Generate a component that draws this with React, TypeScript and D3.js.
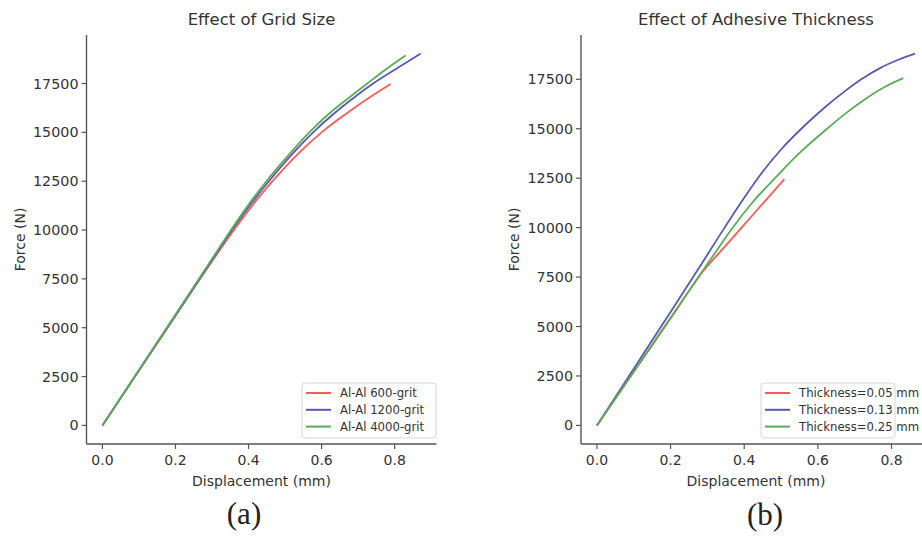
import * as d3 from "d3";

const W = 922;
const H = 537;

type Pt = [number, number];

// displacement (mm), force (N)
const grit600: Pt[] = [[0, 0], [0.1, 2800], [0.2, 5600], [0.28, 7850], [0.36, 10000], [0.41, 11250], [0.468, 12550], [0.53, 13800], [0.6, 15000], [0.65, 15720], [0.7, 16390], [0.75, 17010], [0.789, 17470]];
const grit1200: Pt[] = [[0, 0], [0.1, 2820], [0.2, 5640], [0.28, 7890], [0.355, 10000], [0.41, 11420], [0.46, 12600], [0.52, 13900], [0.574, 14950], [0.63, 15900], [0.69, 16800], [0.743, 17520], [0.81, 18320], [0.871, 19030]];
const grit4000: Pt[] = [[0, 0], [0.1, 2840], [0.2, 5680], [0.28, 7950], [0.352, 10000], [0.4, 11300], [0.451, 12550], [0.51, 13850], [0.561, 14900], [0.62, 15950], [0.68, 16850], [0.725, 17500], [0.78, 18280], [0.83, 18940]];

const thick005: Pt[] = [[0, 0], [0.1, 2700], [0.2, 5400], [0.29, 7830], [0.34, 8885], [0.4, 10150], [0.46, 11420], [0.509, 12450]];
const thick013: Pt[] = [[0, 0], [0.1, 2870], [0.2, 5740], [0.273, 7840], [0.345, 9950], [0.39, 11230], [0.437, 12500], [0.5, 13950], [0.555, 15000], [0.62, 16100], [0.67, 16850], [0.718, 17500], [0.77, 18080], [0.82, 18500], [0.864, 18800]];
const thick025: Pt[] = [[0, 0], [0.1, 2720], [0.2, 5440], [0.288, 7830], [0.33, 8970], [0.368, 9980], [0.42, 11220], [0.486, 12550], [0.546, 13700], [0.625, 15000], [0.673, 15740], [0.73, 16520], [0.78, 17100], [0.832, 17560]];

const gridLabels = ["Al-Al 600-grit", "Al-Al 1200-grit", "Al-Al 4000-grit"];
const thickLabels = ["Thickness=0.05 mm", "Thickness=0.13 mm", "Thickness=0.25 mm"];
const colors = ["#ff5a5a", "#5959b4", "#59ac59"];

const xTicks = [0, 0.2, 0.4, 0.6, 0.8];
const yTicks = [0, 2500, 5000, 7500, 10000, 12500, 15000, 17500];

const font = "DejaVu Sans, sans-serif";
const ink = "#333";
const spine = "#555";

interface PanelProps {
  left: number;
  title: string;
  series: Pt[][];
  labels: string[];
  legendX: number;
}

const Panel = ({ left, title, series, labels, legendX }: PanelProps) => {
  const top = 35;
  const bottom = 444;
  const plotW = 350;
  const all = series.flat();
  const xMax = d3.max(all, (d) => d[0]) as number;
  const yMax = d3.max(all, (d) => d[1]) as number;
  // matplotlib-style 5% margins
  const x = d3.scaleLinear().domain([-0.05 * xMax, 1.05 * xMax]).range([left, left + plotW]);
  const y = d3.scaleLinear().domain([-0.05 * yMax, 1.05 * yMax]).range([bottom, top]);
  const line = d3
    .line<Pt>()
    .x((d) => x(d[0]))
    .y((d) => y(d[1]))
    .curve(d3.curveMonotoneX);

  return (
    <g fontFamily={font} fill={ink}>
      <text x={left + plotW / 2} y={25} textAnchor="middle" fontSize={16.5}>
        {title}
      </text>
      {series.map((s, i) => (
        <path key={i} d={line(s) ?? ""} fill="none" stroke={colors[i]} strokeWidth={1.8} />
      ))}
      <line x1={left} x2={left} y1={top} y2={bottom} stroke={spine} strokeWidth={1.4} />
      <line x1={left} x2={left + plotW} y1={bottom} y2={bottom} stroke={spine} strokeWidth={1.4} />
      {xTicks.map((t) => (
        <g key={t} transform={`translate(${x(t)},${bottom})`}>
          <line y2={5} stroke={spine} strokeWidth={1.2} />
          <text y={21} textAnchor="middle" fontSize={14}>
            {t.toFixed(1)}
          </text>
        </g>
      ))}
      {yTicks.map((t) => (
        <g key={t} transform={`translate(${left},${y(t)})`}>
          <line x2={-5} stroke={spine} strokeWidth={1.2} />
          <text x={-8} dy="0.35em" textAnchor="end" fontSize={14.3}>
            {t}
          </text>
        </g>
      ))}
      <text x={left + plotW / 2} y={486} textAnchor="middle" fontSize={14}>
        Displacement (mm)
      </text>
      <text
        transform={`translate(${left - 62},${(top + bottom) / 2}) rotate(-90)`}
        textAnchor="middle"
        fontSize={14}
      >
        Force (N)
      </text>
      <g transform={`translate(${legendX},383)`}>
        <rect width={134} height={55} rx={3} fill="white" stroke="#d4d4d4" />
        {labels.map((l, i) => (
          <g key={l} transform={`translate(0,${10 + i * 16.8})`}>
            <line x1={4} x2={29} stroke={colors[i]} strokeWidth={2} />
            <text x={38} dy="0.35em" fontSize={11.7}>
              {l}
            </text>
          </g>
        ))}
      </g>
    </g>
  );
};

const App = () => (
  <div style={{ position: "absolute", left: 0, top: 0 }}>
    <svg width={W} height={H} style={{ display: "block", background: "white" }}>
      <Panel left={86.5} title="Effect of Grid Size" series={[grit600, grit1200, grit4000]} labels={gridLabels} legendX={302} />
      <Panel left={581} title="Effect of Adhesive Thickness" series={[thick005, thick013, thick025]} labels={thickLabels} legendX={761} />
      <g fontFamily="Liberation Serif, Times New Roman, serif" fontSize={31} fill="#222" textAnchor="middle">
        <text x={244} y={524}>(a)</text>
        <text x={765} y={525}>(b)</text>
      </g>
    </svg>
  </div>
);

export default App;
